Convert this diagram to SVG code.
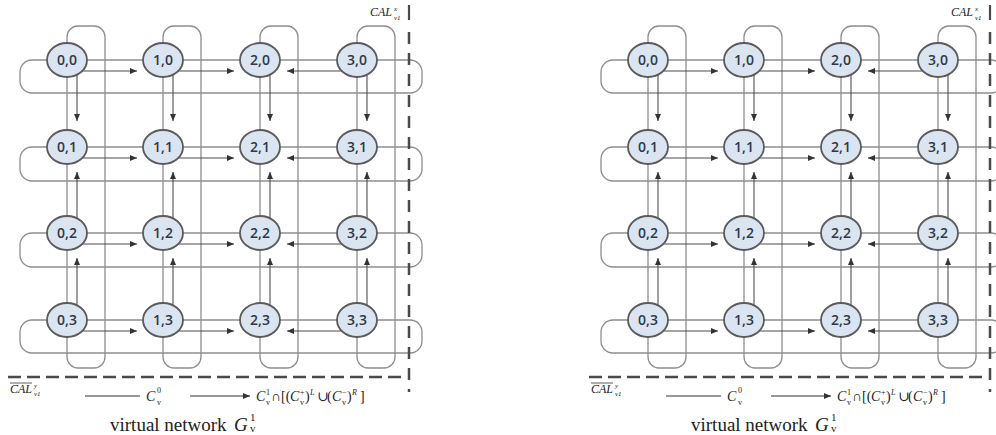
<svg xmlns="http://www.w3.org/2000/svg" width="996" height="435" viewBox="0 0 996 435">
<style>
.loop{fill:none;stroke:#8e8e8e;stroke-width:1.3}
.arr{fill:none;stroke:#4d4d4d;stroke-width:1.1;marker-end:url(#ah)}
.leg{fill:none;stroke:#333;stroke-width:1}
.node ellipse{fill:#dae5f1;stroke:#5b5b5b;stroke-width:1.8}
.node text{font-family:"Open Sans","Liberation Sans",sans-serif;font-size:14px;font-weight:600;fill:#2e3848;text-anchor:middle}
.dash{stroke:#4a4a4a;stroke-width:2.5;fill:none}
.fi{font-family:"Liberation Serif",serif;font-style:italic;font-size:14px;fill:#222}
.fn{font-family:"Liberation Serif","DejaVu Serif",serif;font-size:14px;fill:#222}
.fs{font-family:"Liberation Serif",serif;font-size:8px;fill:#222}
.fsi{font-family:"Liberation Serif",serif;font-style:italic;font-size:8px;fill:#222}
.cal{font-family:"Liberation Serif",serif;font-style:italic;font-size:12px;fill:#222}
.cals{font-family:"Liberation Serif",serif;font-style:italic;font-size:7px;fill:#222}
.title{font-family:"Liberation Serif",serif;font-size:19px;fill:#222}
.titlei{font-family:"Liberation Serif",serif;font-style:italic;font-size:19px;fill:#222}
.titles{font-family:"Liberation Serif",serif;font-size:11px;fill:#222}
</style>
<defs>
<marker id="ah" markerWidth="7" markerHeight="6" refX="7" refY="3" orient="auto" markerUnits="userSpaceOnUse"><path d="M0,0 L7,3 L0,6 z" fill="#333"/></marker>
</defs>

<g id="panel-left">
<g id="L-connectors">
<rect class="loop" x="67" y="26" width="38" height="342" rx="11"/>
<rect class="loop" x="163" y="26" width="38" height="342" rx="11"/>
<rect class="loop" x="260" y="26" width="38" height="342" rx="11"/>
<rect class="loop" x="357" y="26" width="38" height="342" rx="11"/>
<rect class="loop" x="20" y="60" width="402" height="33" rx="12"/>
<rect class="loop" x="20" y="147" width="402" height="34" rx="12"/>
<rect class="loop" x="20" y="233" width="402" height="34" rx="12"/>
<rect class="loop" x="20" y="320" width="402" height="33" rx="12"/>
<path class="arr" d="M67,71 H137"/><path class="arr" d="M163,71 H234"/><path class="arr" d="M357,71 H287"/>
<path class="arr" d="M67,158 H137"/><path class="arr" d="M163,158 H234"/><path class="arr" d="M357,158 H287"/>
<path class="arr" d="M67,244 H137"/><path class="arr" d="M163,244 H234"/><path class="arr" d="M357,244 H287"/>
<path class="arr" d="M67,331 H137"/><path class="arr" d="M163,331 H234"/><path class="arr" d="M357,331 H287"/>
<path class="arr" d="M77,60 V121"/><path class="arr" d="M77,233 V172"/><path class="arr" d="M77,320 V258"/>
<path class="arr" d="M173,60 V121"/><path class="arr" d="M173,233 V172"/><path class="arr" d="M173,320 V258"/>
<path class="arr" d="M270,60 V121"/><path class="arr" d="M270,233 V172"/><path class="arr" d="M270,320 V258"/>
<path class="arr" d="M367,60 V121"/><path class="arr" d="M367,233 V172"/><path class="arr" d="M367,320 V258"/>
</g>
<g id="L-n00" class="node"><ellipse cx="67" cy="60" rx="20" ry="17"/><text x="67" y="65">0,0</text></g>
<g id="L-n10" class="node"><ellipse cx="163" cy="60" rx="20" ry="17"/><text x="163" y="65">1,0</text></g>
<g id="L-n20" class="node"><ellipse cx="260" cy="60" rx="20" ry="17"/><text x="260" y="65">2,0</text></g>
<g id="L-n30" class="node"><ellipse cx="357" cy="60" rx="20" ry="17"/><text x="357" y="65">3,0</text></g>
<g id="L-n01" class="node"><ellipse cx="67" cy="147" rx="20" ry="17"/><text x="67" y="152">0,1</text></g>
<g id="L-n11" class="node"><ellipse cx="163" cy="147" rx="20" ry="17"/><text x="163" y="152">1,1</text></g>
<g id="L-n21" class="node"><ellipse cx="260" cy="147" rx="20" ry="17"/><text x="260" y="152">2,1</text></g>
<g id="L-n31" class="node"><ellipse cx="357" cy="147" rx="20" ry="17"/><text x="357" y="152">3,1</text></g>
<g id="L-n02" class="node"><ellipse cx="67" cy="233" rx="20" ry="17"/><text x="67" y="238">0,2</text></g>
<g id="L-n12" class="node"><ellipse cx="163" cy="233" rx="20" ry="17"/><text x="163" y="238">1,2</text></g>
<g id="L-n22" class="node"><ellipse cx="260" cy="233" rx="20" ry="17"/><text x="260" y="238">2,2</text></g>
<g id="L-n32" class="node"><ellipse cx="357" cy="233" rx="20" ry="17"/><text x="357" y="238">3,2</text></g>
<g id="L-n03" class="node"><ellipse cx="67" cy="320" rx="20" ry="17"/><text x="67" y="325">0,3</text></g>
<g id="L-n13" class="node"><ellipse cx="163" cy="320" rx="20" ry="17"/><text x="163" y="325">1,3</text></g>
<g id="L-n23" class="node"><ellipse cx="260" cy="320" rx="20" ry="17"/><text x="260" y="325">2,3</text></g>
<g id="L-n33" class="node"><ellipse cx="357" cy="320" rx="20" ry="17"/><text x="357" y="325">3,3</text></g>
<g id="L-annot">
<line x1="409" y1="5" x2="409" y2="20" stroke="#4a4a4a" stroke-width="2.2"/>
<line class="dash" x1="409" y1="32" x2="409" y2="392" stroke-dasharray="12 9"/>
<line class="dash" x1="8" y1="377" x2="402" y2="377" stroke-dasharray="13 6"/>
<text class="cal" x="370" y="16">CAL</text><text class="cals" x="394" y="11">x</text><text class="cals" x="394" y="20">v1</text>
<line x1="10" y1="383" x2="32" y2="383" stroke="#333" stroke-width="0.8"/>
<text class="cal" x="10" y="393">CAL</text><text class="cals" x="34" y="388">y</text><text class="cals" x="34" y="396">v1</text>
<line class="leg" x1="85" y1="396" x2="140" y2="396"/>
<text class="fi" x="146" y="401">C</text><text class="fs" x="157" y="393">0</text><text class="fs" x="157" y="405">v</text>
<line class="leg" x1="190" y1="396" x2="250" y2="396" marker-end="url(#ah)"/>
<text class="fi" x="256" y="401">C</text><text class="fs" x="266" y="395">1</text><text class="fs" x="266" y="405">v</text>
<text class="fn" x="271" y="401">∩</text><text class="fn" x="281" y="401">[(</text>
<text class="fi" x="290" y="401">C</text><text class="fs" x="300" y="395">+</text><text class="fs" x="300" y="405">v</text>
<text class="fn" x="305" y="401">)</text><text class="fsi" x="310" y="395">L</text>
<text class="fn" x="317" y="401">∪</text><text class="fn" x="327" y="401">(</text>
<text class="fi" x="332" y="401">C</text><text class="fs" x="342" y="395">−</text><text class="fs" x="342" y="405">v</text>
<text class="fn" x="347" y="401">)</text><text class="fsi" x="352" y="395">R</text>
<text class="fn" x="360" y="401">]</text>
<text class="title" x="110" y="431">virtual network</text><text class="titlei" x="234" y="431">G</text><text class="titles" x="250" y="421">1</text><text class="titles" x="250" y="432">v</text>
</g>
</g>

<g id="panel-right" transform="translate(581,0)">
<g id="R-connectors">
<rect class="loop" x="67" y="26" width="38" height="342" rx="11"/>
<rect class="loop" x="163" y="26" width="38" height="342" rx="11"/>
<rect class="loop" x="260" y="26" width="38" height="342" rx="11"/>
<rect class="loop" x="357" y="26" width="38" height="342" rx="11"/>
<rect class="loop" x="20" y="60" width="402" height="33" rx="12"/>
<rect class="loop" x="20" y="147" width="402" height="34" rx="12"/>
<rect class="loop" x="20" y="233" width="402" height="34" rx="12"/>
<rect class="loop" x="20" y="320" width="402" height="33" rx="12"/>
<path class="arr" d="M67,71 H137"/><path class="arr" d="M163,71 H234"/><path class="arr" d="M357,71 H287"/>
<path class="arr" d="M67,158 H137"/><path class="arr" d="M163,158 H234"/><path class="arr" d="M357,158 H287"/>
<path class="arr" d="M67,244 H137"/><path class="arr" d="M163,244 H234"/><path class="arr" d="M357,244 H287"/>
<path class="arr" d="M67,331 H137"/><path class="arr" d="M163,331 H234"/><path class="arr" d="M357,331 H287"/>
<path class="arr" d="M77,60 V121"/><path class="arr" d="M77,233 V172"/><path class="arr" d="M77,320 V258"/>
<path class="arr" d="M173,60 V121"/><path class="arr" d="M173,233 V172"/><path class="arr" d="M173,320 V258"/>
<path class="arr" d="M270,60 V121"/><path class="arr" d="M270,233 V172"/><path class="arr" d="M270,320 V258"/>
<path class="arr" d="M367,60 V121"/><path class="arr" d="M367,233 V172"/><path class="arr" d="M367,320 V258"/>
</g>
<g id="R-n00" class="node"><ellipse cx="67" cy="60" rx="20" ry="17"/><text x="67" y="65">0,0</text></g>
<g id="R-n10" class="node"><ellipse cx="163" cy="60" rx="20" ry="17"/><text x="163" y="65">1,0</text></g>
<g id="R-n20" class="node"><ellipse cx="260" cy="60" rx="20" ry="17"/><text x="260" y="65">2,0</text></g>
<g id="R-n30" class="node"><ellipse cx="357" cy="60" rx="20" ry="17"/><text x="357" y="65">3,0</text></g>
<g id="R-n01" class="node"><ellipse cx="67" cy="147" rx="20" ry="17"/><text x="67" y="152">0,1</text></g>
<g id="R-n11" class="node"><ellipse cx="163" cy="147" rx="20" ry="17"/><text x="163" y="152">1,1</text></g>
<g id="R-n21" class="node"><ellipse cx="260" cy="147" rx="20" ry="17"/><text x="260" y="152">2,1</text></g>
<g id="R-n31" class="node"><ellipse cx="357" cy="147" rx="20" ry="17"/><text x="357" y="152">3,1</text></g>
<g id="R-n02" class="node"><ellipse cx="67" cy="233" rx="20" ry="17"/><text x="67" y="238">0,2</text></g>
<g id="R-n12" class="node"><ellipse cx="163" cy="233" rx="20" ry="17"/><text x="163" y="238">1,2</text></g>
<g id="R-n22" class="node"><ellipse cx="260" cy="233" rx="20" ry="17"/><text x="260" y="238">2,2</text></g>
<g id="R-n32" class="node"><ellipse cx="357" cy="233" rx="20" ry="17"/><text x="357" y="238">3,2</text></g>
<g id="R-n03" class="node"><ellipse cx="67" cy="320" rx="20" ry="17"/><text x="67" y="325">0,3</text></g>
<g id="R-n13" class="node"><ellipse cx="163" cy="320" rx="20" ry="17"/><text x="163" y="325">1,3</text></g>
<g id="R-n23" class="node"><ellipse cx="260" cy="320" rx="20" ry="17"/><text x="260" y="325">2,3</text></g>
<g id="R-n33" class="node"><ellipse cx="357" cy="320" rx="20" ry="17"/><text x="357" y="325">3,3</text></g>
<g id="R-annot">
<line x1="409" y1="5" x2="409" y2="20" stroke="#4a4a4a" stroke-width="2.2"/>
<line class="dash" x1="409" y1="32" x2="409" y2="392" stroke-dasharray="12 9"/>
<line class="dash" x1="8" y1="377" x2="402" y2="377" stroke-dasharray="13 6"/>
<text class="cal" x="370" y="16">CAL</text><text class="cals" x="394" y="11">x</text><text class="cals" x="394" y="20">v1</text>
<line x1="10" y1="383" x2="32" y2="383" stroke="#333" stroke-width="0.8"/>
<text class="cal" x="10" y="393">CAL</text><text class="cals" x="34" y="388">y</text><text class="cals" x="34" y="396">v1</text>
<line class="leg" x1="85" y1="396" x2="140" y2="396"/>
<text class="fi" x="146" y="401">C</text><text class="fs" x="157" y="393">0</text><text class="fs" x="157" y="405">v</text>
<line class="leg" x1="190" y1="396" x2="250" y2="396" marker-end="url(#ah)"/>
<text class="fi" x="256" y="401">C</text><text class="fs" x="266" y="395">1</text><text class="fs" x="266" y="405">v</text>
<text class="fn" x="271" y="401">∩</text><text class="fn" x="281" y="401">[(</text>
<text class="fi" x="290" y="401">C</text><text class="fs" x="300" y="395">+</text><text class="fs" x="300" y="405">v</text>
<text class="fn" x="305" y="401">)</text><text class="fsi" x="310" y="395">L</text>
<text class="fn" x="317" y="401">∪</text><text class="fn" x="327" y="401">(</text>
<text class="fi" x="332" y="401">C</text><text class="fs" x="342" y="395">−</text><text class="fs" x="342" y="405">v</text>
<text class="fn" x="347" y="401">)</text><text class="fsi" x="352" y="395">R</text>
<text class="fn" x="360" y="401">]</text>
<text class="title" x="110" y="431">virtual network</text><text class="titlei" x="234" y="431">G</text><text class="titles" x="250" y="421">1</text><text class="titles" x="250" y="432">v</text>
</g>
</g>
</svg>
